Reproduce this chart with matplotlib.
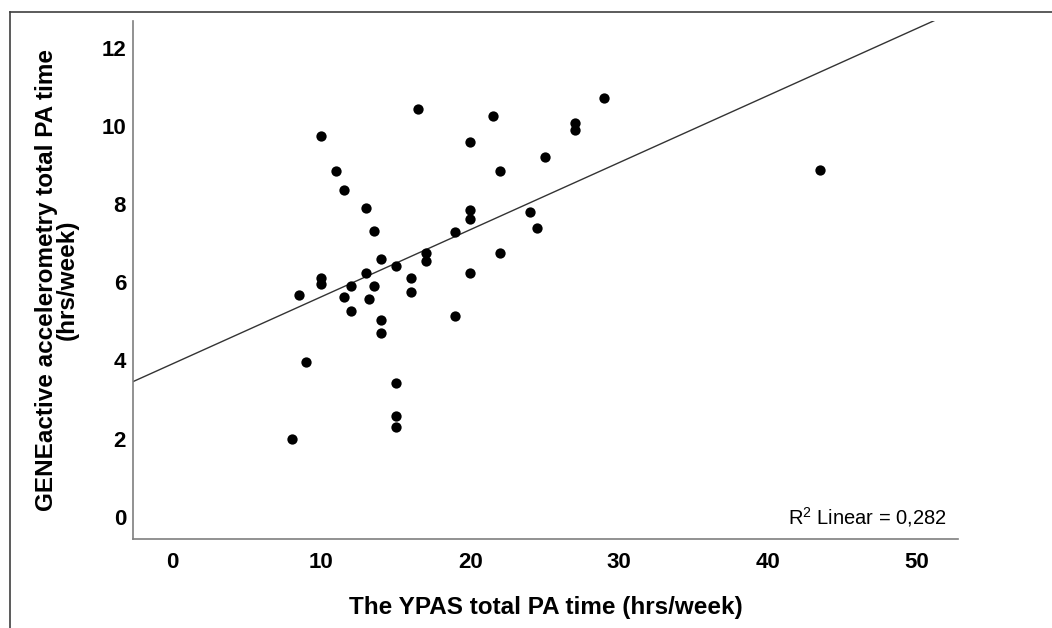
import numpy as np
import matplotlib
matplotlib.use('Agg')
import matplotlib.pyplot as plt
from matplotlib.lines import Line2D

# YPAS total PA time (hrs/week) vs GENEactive total PA time (hrs/week)
ypas_hrs = [8, 8.5, 9, 10, 10, 10, 11, 11.5, 11.5, 12, 12, 13, 13, 13.2, 13.5,
            13.5, 14, 14, 14, 15, 15, 15, 15, 16, 16, 16.5, 17, 17, 19, 19,
            20, 20, 20, 20, 21.5, 22, 22, 24, 24.5, 25, 27, 27, 29, 43.5]
gene_hrs = [1.98, 5.67, 3.96, 9.75, 6.11, 5.97, 8.85, 8.36, 5.62, 5.9, 5.26, 7.91,
            6.25, 5.58, 7.32, 5.9, 6.6, 5.04, 4.7, 6.42, 3.42, 2.58, 2.29, 6.11,
            5.76, 10.45, 6.76, 6.54, 7.29, 5.14, 9.6, 7.85, 7.62, 6.25, 10.26,
            8.85, 6.76, 7.8, 7.38, 9.2, 10.07, 9.91, 10.71, 8.87]
x_ticks = [0, 10, 20, 30, 40, 50]
y_ticks = [0, 2, 4, 6, 8, 10, 12]
r2_text = 'R$^2$ Linear = 0,282'

plt.rcParams['font.family'] = ['Liberation Sans', 'DejaVu Sans']
plt.rcParams['mathtext.fontset'] = 'custom'
plt.rcParams['mathtext.rm'] = 'Liberation Sans'

fig = plt.figure(figsize=(10.52, 6.28), dpi=100)
ax = fig.add_axes([133 / 1052, 1 - 539 / 628, 825 / 1052, 518 / 628])

xmin, xmax = -2.65, 52.75
ax.set_xlim(xmin, xmax)
ax.set_ylim(-0.57, 12.69)

ax.scatter(ypas_hrs, gene_hrs, s=55, color='black', zorder=3, linewidths=0)

# linear fit through the points
slope, intercept = np.polyfit(ypas_hrs, gene_hrs, 1)
xs = np.array([xmin, xmax])
ax.plot(xs, intercept + slope * xs, color='#333333', lw=1.0, zorder=2)

for side in ['top', 'right']:
    ax.spines[side].set_visible(False)
for side in ['left', 'bottom']:
    ax.spines[side].set_color('#7f7f7f')
    ax.spines[side].set_linewidth(1.2)

ax.set_xticks(x_ticks)
ax.set_yticks(y_ticks)
ax.tick_params(length=0, labelsize=16)
ax.tick_params(axis='x', pad=9)
ax.tick_params(axis='y', pad=5)
for lab in ax.get_xticklabels() + ax.get_yticklabels():
    lab.set_fontweight('bold')

ax.set_xlabel('The YPAS total PA time (hrs/week)', fontsize=17.5,
              fontweight='bold', labelpad=17)
ax.set_ylabel('GENEactive accelerometry total PA time\n(hrs/week)',
              fontsize=17.5, fontweight='bold', labelpad=16, linespacing=0.88)

ax.text(0.987, 0.02, r2_text, transform=ax.transAxes, ha='right',
        va='bottom', fontsize=14.5)

# outer frame (top and left edges)
fig.add_artist(Line2D([10 / 1052, 1.0], [1 - 12 / 628, 1 - 12 / 628],
                      color='#404040', lw=1.2))
fig.add_artist(Line2D([10 / 1052, 10 / 1052], [0, 1 - 12 / 628],
                      color='#404040', lw=1.2))

fig.savefig('out.png', dpi=100)
